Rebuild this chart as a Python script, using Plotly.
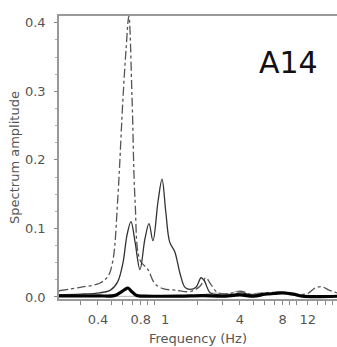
import math
import plotly.graph_objects as go

# Frequency grid (Hz) and spectrum amplitudes for each signal
freq_solid = [0.2125, 0.30, 0.41, 0.49, 0.55, 0.60, 0.64, 0.683, 0.73, 0.79, 0.857,
              0.915, 0.975, 1.06, 1.13, 1.20, 1.28, 1.39, 1.51, 1.64, 1.78, 1.96,
              2.13, 2.24, 2.47, 2.9, 3.5, 4.1, 4.8, 6.0, 8.0, 10.0, 13.0, 19.3]
amp_solid = [0.003, 0.004, 0.006, 0.010, 0.022, 0.050, 0.090, 0.110, 0.080, 0.040, 0.085,
             0.107, 0.082, 0.140, 0.172, 0.125, 0.080, 0.066, 0.035, 0.014, 0.011, 0.014,
             0.028, 0.024, 0.006, 0.003, 0.003, 0.006, 0.003, 0.004, 0.006, 0.003, 0.002, 0.002]

freq_dash = [0.2125, 0.30, 0.41, 0.47, 0.51, 0.55, 0.60, 0.63, 0.66, 0.695, 0.73, 0.79,
             0.90, 1.0, 1.15, 1.4, 1.8, 2.1, 2.3, 2.5, 2.8, 3.4, 4.1, 4.8, 6.0, 8.0,
             10.0, 12.0, 13.5, 15.0, 17.0, 19.3]
amp_dash = [0.009, 0.014, 0.020, 0.030, 0.054, 0.140, 0.290, 0.360, 0.410, 0.290, 0.140, 0.054,
            0.040, 0.020, 0.012, 0.010, 0.008, 0.016, 0.028, 0.018, 0.006, 0.005, 0.008, 0.004,
            0.006, 0.007, 0.004, 0.005, 0.013, 0.015, 0.010, 0.006]

freq_thick = [0.2125, 0.40, 0.52, 0.57, 0.62, 0.65, 0.69, 0.75, 0.85, 1.5, 2.2, 3.0,
              4.0, 5.0, 6.0, 7.0, 8.0, 9.5, 11.0, 19.3]
amp_thick = [0.0015, 0.0015, 0.002, 0.006, 0.011, 0.013, 0.008, 0.002, 0.0012, 0.0012, 0.002, 0.001,
             0.003, 0.001, 0.004, 0.005, 0.006, 0.004, 0.001, 0.001]

freq_grey = [0.2125, 1.0, 2.0, 2.6, 3.2, 4.0, 4.6, 5.5, 6.5, 7.5, 8.5, 10.0, 19.3]
amp_grey = [0.001, 0.001, 0.002, 0.006, 0.004, 0.009, 0.004, 0.006, 0.003, 0.007, 0.004, 0.002, 0.001]

x_tick_vals = [0.3, 0.4, 0.5, 0.6, 0.7, 0.8, 0.9, 1, 2, 3, 4, 5, 6, 7, 8, 9, 10, 12, 14, 16, 18]
x_tick_text = ["", "0.4", "", "", "", "0.8", "", "", "", "", "4", "", "", "",
               "8", "", "", "12", "", "", ""]
# the 1 Hz label is drawn separately, nudged right so it clears "0.8"
one_hz_value = 1
one_hz_label = "1"
y_tick_vals = [0.0, 0.1, 0.2, 0.3, 0.4]
y_tick_text = ["0.0", "0.1", "0.2", "0.3", "0.4"]

font_family = "DejaVu Sans"

fig = go.Figure()
fig.add_trace(go.Scatter(x=freq_grey, y=amp_grey, mode="lines", line_shape="spline",
                         line=dict(color="#b5b5b5", width=1)))
fig.add_trace(go.Scatter(x=freq_dash, y=amp_dash, mode="lines", line_shape="spline",
                         line=dict(color="#555555", width=1.3, dash="dashdot")))
fig.add_trace(go.Scatter(x=freq_solid, y=amp_solid, mode="lines", line_shape="spline",
                         line=dict(color="#333333", width=1.3)))
fig.add_trace(go.Scatter(x=freq_thick, y=amp_thick, mode="lines", line_shape="spline",
                         line=dict(color="#000000", width=3.2)))

fig.add_annotation(text="A14", xref="paper", yref="paper", x=0.824, y=0.835,
                   xanchor="center", yanchor="middle", showarrow=False,
                   font=dict(family=font_family, size=30, color="#111111"))
fig.add_annotation(text=one_hz_label, xref="x", yref="paper", x=math.log10(one_hz_value), y=0,
                   xanchor="center", yanchor="top", xshift=11, yshift=-12, showarrow=False,
                   borderpad=0,
                   font=dict(family=font_family, size=13, color="#555555"))

fig.update_layout(
    width=337, height=347,
    margin=dict(l=59, r=0, t=16, b=48),
    paper_bgcolor="white", plot_bgcolor="white",
    showlegend=False,
    font=dict(family=font_family, size=13, color="#555555"),
)
fig.update_xaxes(
    type="log", range=[-0.6726, 1.2856],
    tickmode="array", tickvals=x_tick_vals, ticktext=x_tick_text, tickangle=0,
    ticks="outside", ticklen=4, tickcolor="#888888", ticklabelstandoff=4,
    showline=True, linecolor="#999999", linewidth=1.5, mirror=True,
    showgrid=False, zeroline=False,
    title=dict(text="Frequency (Hz)", standoff=8, font=dict(size=13, color="#555555")),
)
fig.update_yaxes(
    range=[-0.003, 0.41],
    tickmode="array", tickvals=y_tick_vals, ticktext=y_tick_text,
    ticks="outside", ticklen=3, tickcolor="#888888", ticklabelstandoff=6,
    minor=dict(ticks="outside", ticklen=2, dtick=0.025, tickcolor="#aaaaaa"),
    showline=True, linecolor="#999999", linewidth=1.5, mirror=False,
    showgrid=False, zeroline=False,
    title=dict(text="Spectrum amplitude", standoff=2, font=dict(size=13, color="#555555")),
)

fig.write_html("out.html")
